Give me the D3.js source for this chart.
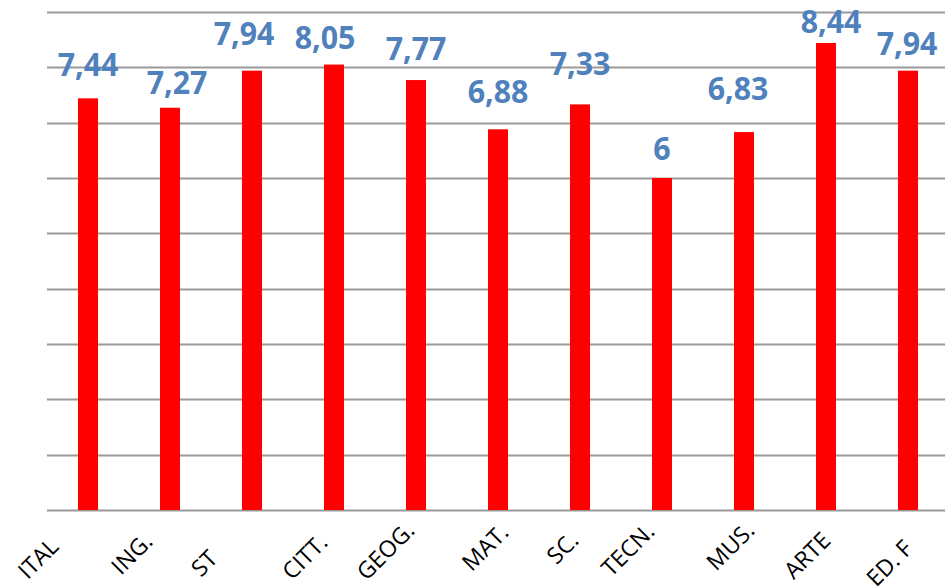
<!DOCTYPE html>
<html>
<head>
<meta charset="utf-8">
<script src="https://cdn.jsdelivr.net/npm/d3@7"></script>
<style>
  html, body { margin: 0; padding: 0; background: #fff; }
  svg { display: block; }
</style>
</head>
<body>
<svg id="chart" width="945" height="587"></svg>
<script>
// Subjects and their average marks
const subjects = ["ITAL", "ING.", "ST", "CITT.", "GEOG.", "MAT.", "SC.", "TECN.", "MUS.", "ARTE", "ED. F"];
const averages = [7.44, 7.27, 7.94, 8.05, 7.77, 6.88, 7.33, 6, 6.83, 8.44, 7.94];
const gridValues = [0, 1, 2, 3, 4, 5, 6, 7, 8, 9];

// hand-placed nudges of the value labels: [dx, lift above bar top]
const valueLabelNudge = [[0, 22], [7, 14], [-8, 26], [-9, 16], [0, 20], [0, 26], [0, 29], [0, 18], [-6, 32], [5, 10], [-1, 16]];
// hand-placed nudges of the slanted category labels: [dx, dy] of text end from tick
const axisLabelNudge = [[-28, 38], [-16, 33], [-33, 50], [-5, 34], [0, 22], [12, 24], [0, 32], [-6, 23], [12, 22], [6, 32], [6, 40]];

const data = subjects.map((s, i) => ({ subject: s, value: averages[i], i }));

const svg = d3.select("#chart");
const W = 945;

const x = d3.scaleBand()
  .domain(subjects)
  .range([47, 949])
  .paddingInner(0.756)
  .paddingOuter(0.378);

const y = d3.scaleLinear()
  .domain([0, 9])
  .range([510, 12]);

// horizontal gridlines
svg.append("g")
  .selectAll("line")
  .data(gridValues)
  .join("line")
  .attr("x1", 47)
  .attr("x2", W)
  .attr("y1", d => Math.round(y(d)) + 0.5)
  .attr("y2", d => Math.round(y(d)) + 0.5)
  .attr("stroke", "#9a9a9a")
  .attr("stroke-width", 2);

// bars
svg.append("g")
  .selectAll("rect")
  .data(data)
  .join("rect")
  .attr("x", d => x(d.subject))
  .attr("width", x.bandwidth())
  .attr("y", d => y(d.value))
  .attr("height", d => y(0) - y(d.value))
  .attr("fill", "#ff0000");

// value labels above the bars
const fmt = v => String(v).replace(".", ",");
svg.append("g")
  .selectAll("text")
  .data(data)
  .join("text")
  .attr("transform", d => {
    const [dx, lift] = valueLabelNudge[d.i];
    return `translate(${x(d.subject) + x.bandwidth() / 2 + dx},${y(d.value) - lift}) scale(0.92,1)`;
  })
  .attr("text-anchor", "middle")
  .attr("font-family", "'Open Sans', sans-serif")
  .attr("font-weight", "bold")
  .attr("font-size", 33)
  .attr("fill", "#4f81bd")
  .text(d => fmt(d.value));

// category axis with slanted labels
const axis = svg.append("g")
  .attr("transform", "translate(0,510)")
  .call(d3.axisBottom(x).tickSize(0).tickPadding(0));
axis.select(".domain").remove();
axis.attr("font-size", null).attr("font-family", null);
axis.selectAll("text")
  .style("font-family", "'Open Sans', sans-serif")
  .style("font-size", "23px")
  .attr("fill", "#000")
  .attr("text-anchor", "end")
  .attr("dy", 0)
  .attr("y", 0)
  .attr("transform", (d, i) => `translate(${axisLabelNudge[i][0]},${axisLabelNudge[i][1]}) rotate(-45)`);
</script>
</body>
</html>
